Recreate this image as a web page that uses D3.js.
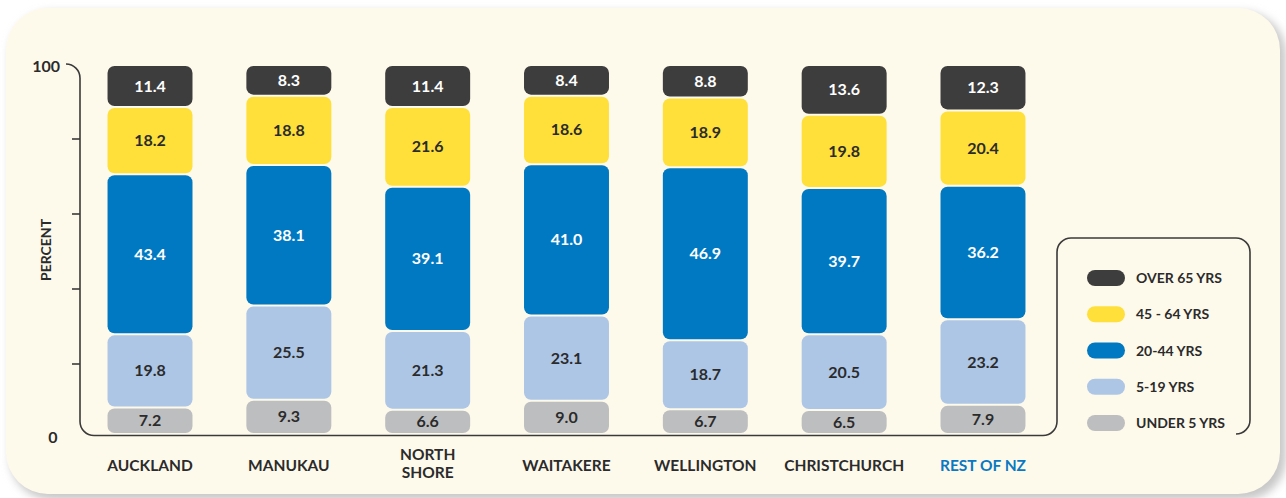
<!DOCTYPE html>
<html>
<head>
<meta charset="utf-8">
<script src="https://cdn.jsdelivr.net/npm/d3@7/dist/d3.min.js"></script>
<style>
  html, body { margin: 0; padding: 0; background: #ffffff; }
  svg { display: block; }
  text { font-family: Lato, "Open Sans", sans-serif; font-weight: bold; }
</style>
</head>
<body>
<svg id="chart" width="1286" height="498"></svg>
<script>
// ---- data ----
const categories = ["AUCKLAND", "MANUKAU", "NORTH SHORE", "WAITAKERE", "WELLINGTON", "CHRISTCHURCH", "REST OF NZ"];
const seriesNames = ["UNDER 5 YRS", "5-19 YRS", "20-44 YRS", "45 - 64 YRS", "OVER 65 YRS"];
const under5  = [7.2, 9.3, 6.6, 9.0, 6.7, 6.5, 7.9];
const age5_19 = [19.8, 25.5, 21.3, 23.1, 18.7, 20.5, 23.2];
const age20_44 = [43.4, 38.1, 39.1, 41.0, 46.9, 39.7, 36.2];
const age45_64 = [18.2, 18.8, 21.6, 18.6, 18.9, 19.8, 20.4];
const over65  = [11.4, 8.3, 11.4, 8.4, 8.8, 13.6, 12.3];
const yTickLabels = ["0", "100"];
const yTicks = [20, 40, 60, 80];

const seriesValues = [under5, age5_19, age20_44, age45_64, over65];
const colors = ["#bdbec0", "#adc6e6", "#0079c2", "#ffe03b", "#3d3d3d"];
const textColors = ["#2b2b2b", "#2b2b2b", "#ffffff", "#2b2b2b", "#ffffff"];

const svg = d3.select("#chart");

// panel with shadow
const defs = svg.append("defs");
const f = defs.append("filter").attr("id", "sh").attr("x", "-5%").attr("y", "-5%").attr("width", "110%").attr("height", "115%");
f.append("feGaussianBlur").attr("stdDeviation", 4);
svg.append("rect").attr("x", 10).attr("y", 12).attr("width", 1276).attr("height", 488).attr("rx", 42)
  .attr("fill", "#c8c8c8").attr("filter", "url(#sh)");
svg.append("rect").attr("x", 6).attr("y", 8).attr("width", 1274).attr("height", 486).attr("rx", 42)
  .attr("fill", "#fefaeb");

// scales
const x = d3.scaleBand().domain(categories).range([80.6, 1052.4]).paddingInner(0.388).paddingOuter(0.194);
const y = d3.scaleLinear().domain([0, 100]).range([434, 65]);
const yAxisScale = d3.scaleLinear().domain([0, 100]).range([439, 64]);

// frame path (axis + legend box as one line)
const ax = 80, by = y(0) + 1.5, rx = 1057, r = 14;
const legTop = 238, legRight = 1250, legBottom = 434;
const p = d3.path();
p.moveTo(66, y(100) - 1);
p.arcTo(ax, y(100) - 1, ax, y(100) + r, r);
p.lineTo(ax, by - r);
p.arcTo(ax, by, ax + r, by, r);
p.lineTo(rx - r, by);
p.arcTo(rx, by, rx, by - r, r);
p.lineTo(rx, legTop + r);
p.arcTo(rx, legTop, rx + r, legTop, r);
p.lineTo(legRight - r, legTop);
p.arcTo(legRight, legTop, legRight, legTop + r, r);
p.lineTo(legRight, legBottom - r);
p.arcTo(legRight, legBottom, legRight - r, legBottom, r);
svg.append("path").attr("d", p.toString()).attr("fill", "none").attr("stroke", "#3a3a3a").attr("stroke-width", 1.6);

// y ticks
svg.selectAll(".tick").data(yTicks).join("line")
  .attr("x1", ax - 8).attr("x2", ax).attr("y1", d => yAxisScale(d)).attr("y2", d => yAxisScale(d))
  .attr("stroke", "#3a3a3a").attr("stroke-width", 1.6);

svg.append("text").attr("x", 60).attr("y", y(100) + 7).attr("text-anchor", "end")
  .attr("font-size", 16).attr("fill", "#2b2b2b").text(yTickLabels[1]);
svg.append("text").attr("x", 53).attr("y", 443).attr("text-anchor", "middle")
  .attr("font-size", 16).attr("fill", "#2b2b2b").text(yTickLabels[0]);

svg.append("text").attr("transform", "translate(51,250) rotate(-90)").attr("text-anchor", "middle")
  .attr("font-size", 14).attr("fill", "#2b2b2b").text("PERCENT");

// stacked bars
const rows = categories.map((c, i) => {
  let cum = 0;
  return seriesValues.map((s, k) => {
    const o = { cat: c, k, v: s[i], y0: cum, y1: cum + s[i] };
    cum += s[i];
    return o;
  });
}).flat();

const g = svg.append("g");
g.selectAll("rect.seg").data(rows).join("rect")
  .attr("class", "seg")
  .attr("x", d => x(d.cat))
  .attr("width", x.bandwidth())
  .attr("y", d => y(Math.min(d.y1, 100)) + 1)
  .attr("height", d => Math.max(0, y(d.y0) - y(Math.min(d.y1, 100)) - 2))
  .attr("rx", 7)
  .attr("fill", d => colors[d.k]);

g.selectAll("text.val").data(rows).join("text")
  .attr("class", "val")
  .attr("x", d => x(d.cat) + x.bandwidth() / 2)
  .attr("y", d => (y(d.y0) + y(Math.min(d.y1, 100))) / 2 + 5.5)
  .attr("text-anchor", "middle")
  .attr("font-size", 16)
  .attr("fill", d => textColors[d.k])
  .text(d => d.v.toFixed(1));

// category labels
const cl = svg.selectAll("text.cat").data(categories).join("text")
  .attr("class", "cat")
  .attr("text-anchor", "middle")
  .attr("font-size", 15.5)
  .attr("fill", d => d === "REST OF NZ" ? "#0a78c2" : "#2b2b2b");
cl.each(function(d) {
  const t = d3.select(this);
  const cx = x(d) + x.bandwidth() / 2;
  if (d === "NORTH SHORE") {
    t.append("tspan").attr("x", cx).attr("y", 460).text("NORTH");
    t.append("tspan").attr("x", cx).attr("y", 478).text("SHORE");
  } else {
    t.attr("x", cx).attr("y", 471).text(d);
  }
});

// legend
const legendOrder = [4, 3, 2, 1, 0];
const ly = d3.scalePoint().domain(legendOrder).range([278, 423]);
const lg = svg.append("g");
lg.selectAll("rect").data(legendOrder).join("rect")
  .attr("x", 1087).attr("y", d => ly(d) - 8).attr("width", 38).attr("height", 16).attr("rx", 8)
  .attr("fill", d => colors[d]);
lg.selectAll("text").data(legendOrder).join("text")
  .attr("x", 1136).attr("y", d => ly(d) + 5).attr("font-size", 14).attr("fill", "#2b2b2b")
  .text(d => seriesNames[d]);
</script>
</body>
</html>
